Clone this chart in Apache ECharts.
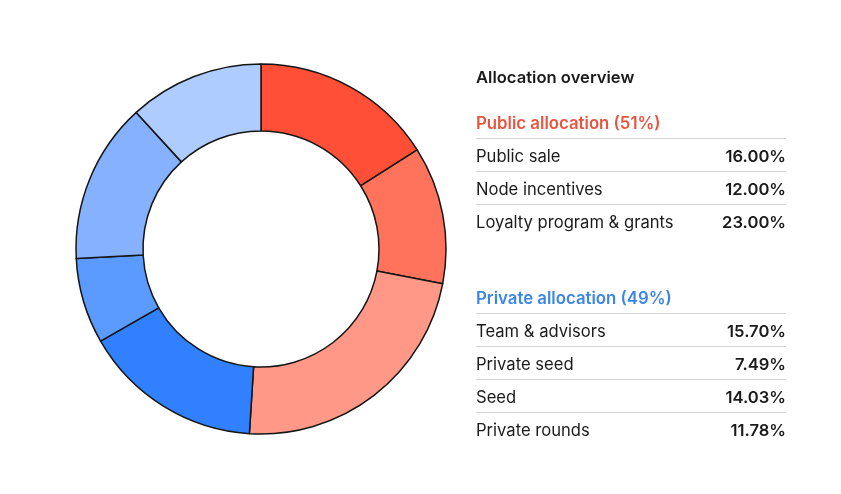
<!DOCTYPE html>
<html><head><meta charset="utf-8">
<script src="https://cdn.jsdelivr.net/npm/echarts@6/dist/echarts.min.js"></script>
<style>html,body{margin:0;padding:0;background:#fff}#c{width:841px;height:494px}</style>
</head><body><div id="c"></div>
<script>
const titleText = 'Allocation overview';
const publicTitle = 'Public allocation';
const privateTitle = 'Private allocation';
const publicLabels = ['Public sale', 'Node incentives', 'Loyalty program & grants'];
const publicValues = [16.00, 12.00, 23.00];
const privateLabels = ['Team & advisors', 'Private seed', 'Seed', 'Private rounds'];
const privateValues = [15.70, 7.49, 14.03, 11.78];
const publicColors = ['#FF4F37', '#FF735C', '#FF9886'];
const privateColors = ['#3080FF', '#5B9BFF', '#85B1FF', '#AECCFF'];

const FONT = 'Inter, "Noto Sans", sans-serif';
const sum = a => a.reduce((s, v) => s + v, 0);

const pieData = [];
publicLabels.forEach((n, i) => pieData.push({name: n, value: publicValues[i], itemStyle: {color: publicColors[i]}}));
privateLabels.forEach((n, i) => pieData.push({name: n, value: privateValues[i], itemStyle: {color: privateColors[i]}}));

const X0 = 476, X1 = 786;
const g = [];
function txt(x, y, s, font, fill, align) {
  g.push({type: 'text', x: x, y: y + 1.5, style: {text: s, font: font, fill: fill, align: align || 'left', textAlign: align || 'left', verticalAlign: 'middle', textVerticalAlign: 'middle'}});
}
txt(X0, 76, titleText, '600 16.6px ' + FONT, '#1b1b1b');

function section(title, color, labels, values, headY) {
  txt(X0, headY, title + ' (' + Math.round(sum(values)) + '%)', '600 16.8px ' + FONT, color);
  const lineY = headY + 16;
  labels.forEach((l, i) => {
    const y = lineY + 33 * i;
    g.push({type: 'line', shape: {x1: X0, y1: y + 0.5, x2: X1, y2: y + 0.5}, style: {stroke: '#d6d6d6', lineWidth: 1}});
    txt(X0, y + 17, l, '400 16.6px ' + FONT, '#1b1b1b');
    txt(X1, y + 17, values[i].toFixed(2) + '%', '600 16.6px ' + FONT, '#1b1b1b', 'right');
  });
}
section(publicTitle, '#E8553F', publicLabels, publicValues, 122);
section(privateTitle, '#3B86E8', privateLabels, privateValues, 297);

const chart = echarts.init(document.getElementById('c'), null, {renderer: 'canvas'});
chart.setOption({
  animation: false,
  backgroundColor: '#fff',
  series: [{
    type: 'pie',
    center: [261, 249],
    radius: [118, 185],
    startAngle: 90,
    clockwise: true,
    label: {show: false},
    labelLine: {show: false},
    emphasis: {disabled: true},
    itemStyle: {borderColor: '#151515', borderWidth: 1.5},
    data: pieData
  }],
  graphic: g
});
</script></body></html>
